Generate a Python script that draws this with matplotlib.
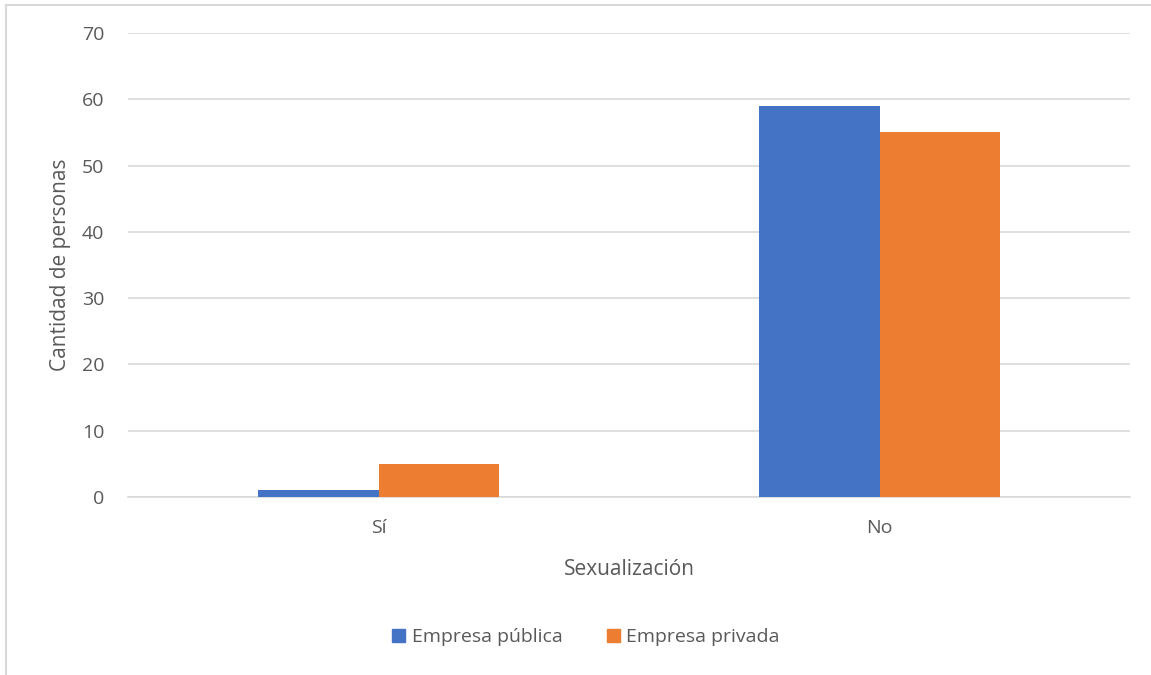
import matplotlib.pyplot as plt
import numpy as np
from matplotlib.patches import Rectangle
from matplotlib.lines import Line2D

# data
categories = ["Sí", "No"]
publica = [1, 59]
privada = [5, 55]
series_names = ["Empresa pública", "Empresa privada"]

blue = "#4472C4"
orange = "#ED7D31"
grey = "#595959"

plt.rcParams['font.family'] = ['Open Sans', 'DejaVu Sans']

fig = plt.figure(figsize=(11.51, 6.75), dpi=100)
ax = fig.add_axes([128 / 1151, 1 - 497 / 675, 1002 / 1151, (497 - 33) / 675])

x = np.arange(len(categories))
w = 0.24
ax.bar(x - w / 2, publica, w, color=blue, label=series_names[0], zorder=3)
ax.bar(x + w / 2, privada, w, color=orange, label=series_names[1], zorder=3)

ax.set_xlim(-0.5, 1.5)
ax.set_ylim(0, 70)
ax.set_yticks(range(0, 71, 10))
ax.set_xticks(x)
ax.set_xticklabels(categories)
ax.yaxis.grid(True, color="#D9D9D9", linewidth=1.2, zorder=0)
for s in ["top", "right", "left"]:
    ax.spines[s].set_visible(False)
ax.spines["bottom"].set_color("#D9D9D9")
ax.spines["bottom"].set_linewidth(1.2)
ax.tick_params(axis="both", length=0, colors=grey, labelsize=14)
ax.tick_params(axis="y", pad=17)
ax.tick_params(axis="x", pad=16)

ax.set_xlabel("Sexualización", fontsize=15, color=grey, labelpad=16)
ax.set_ylabel("Cantidad de personas", fontsize=15, color=grey, labelpad=8)

# legend below
handles = [Rectangle((0, 0), 1, 1, color=blue), Rectangle((0, 0), 1, 1, color=orange)]
fig.legend(handles, series_names, loc="center", bbox_to_anchor=(586 / 1151, 1 - 637 / 675),
           ncol=2, frameon=False, fontsize=14, labelcolor=grey, handlelength=0.65,
           handleheight=0.65, handletextpad=0.35, columnspacing=2.3)

# chart border (top and left visible)
fig.add_artist(Line2D([6 / 1151, 6 / 1151], [0, 1 - 5 / 675], transform=fig.transFigure,
                      color="#D9D9D9", linewidth=1.5))
fig.add_artist(Line2D([6 / 1151, 1150 / 1151], [1 - 5 / 675, 1 - 5 / 675], transform=fig.transFigure,
                      color="#D9D9D9", linewidth=1.5))

fig.savefig("out.png", dpi=100)
